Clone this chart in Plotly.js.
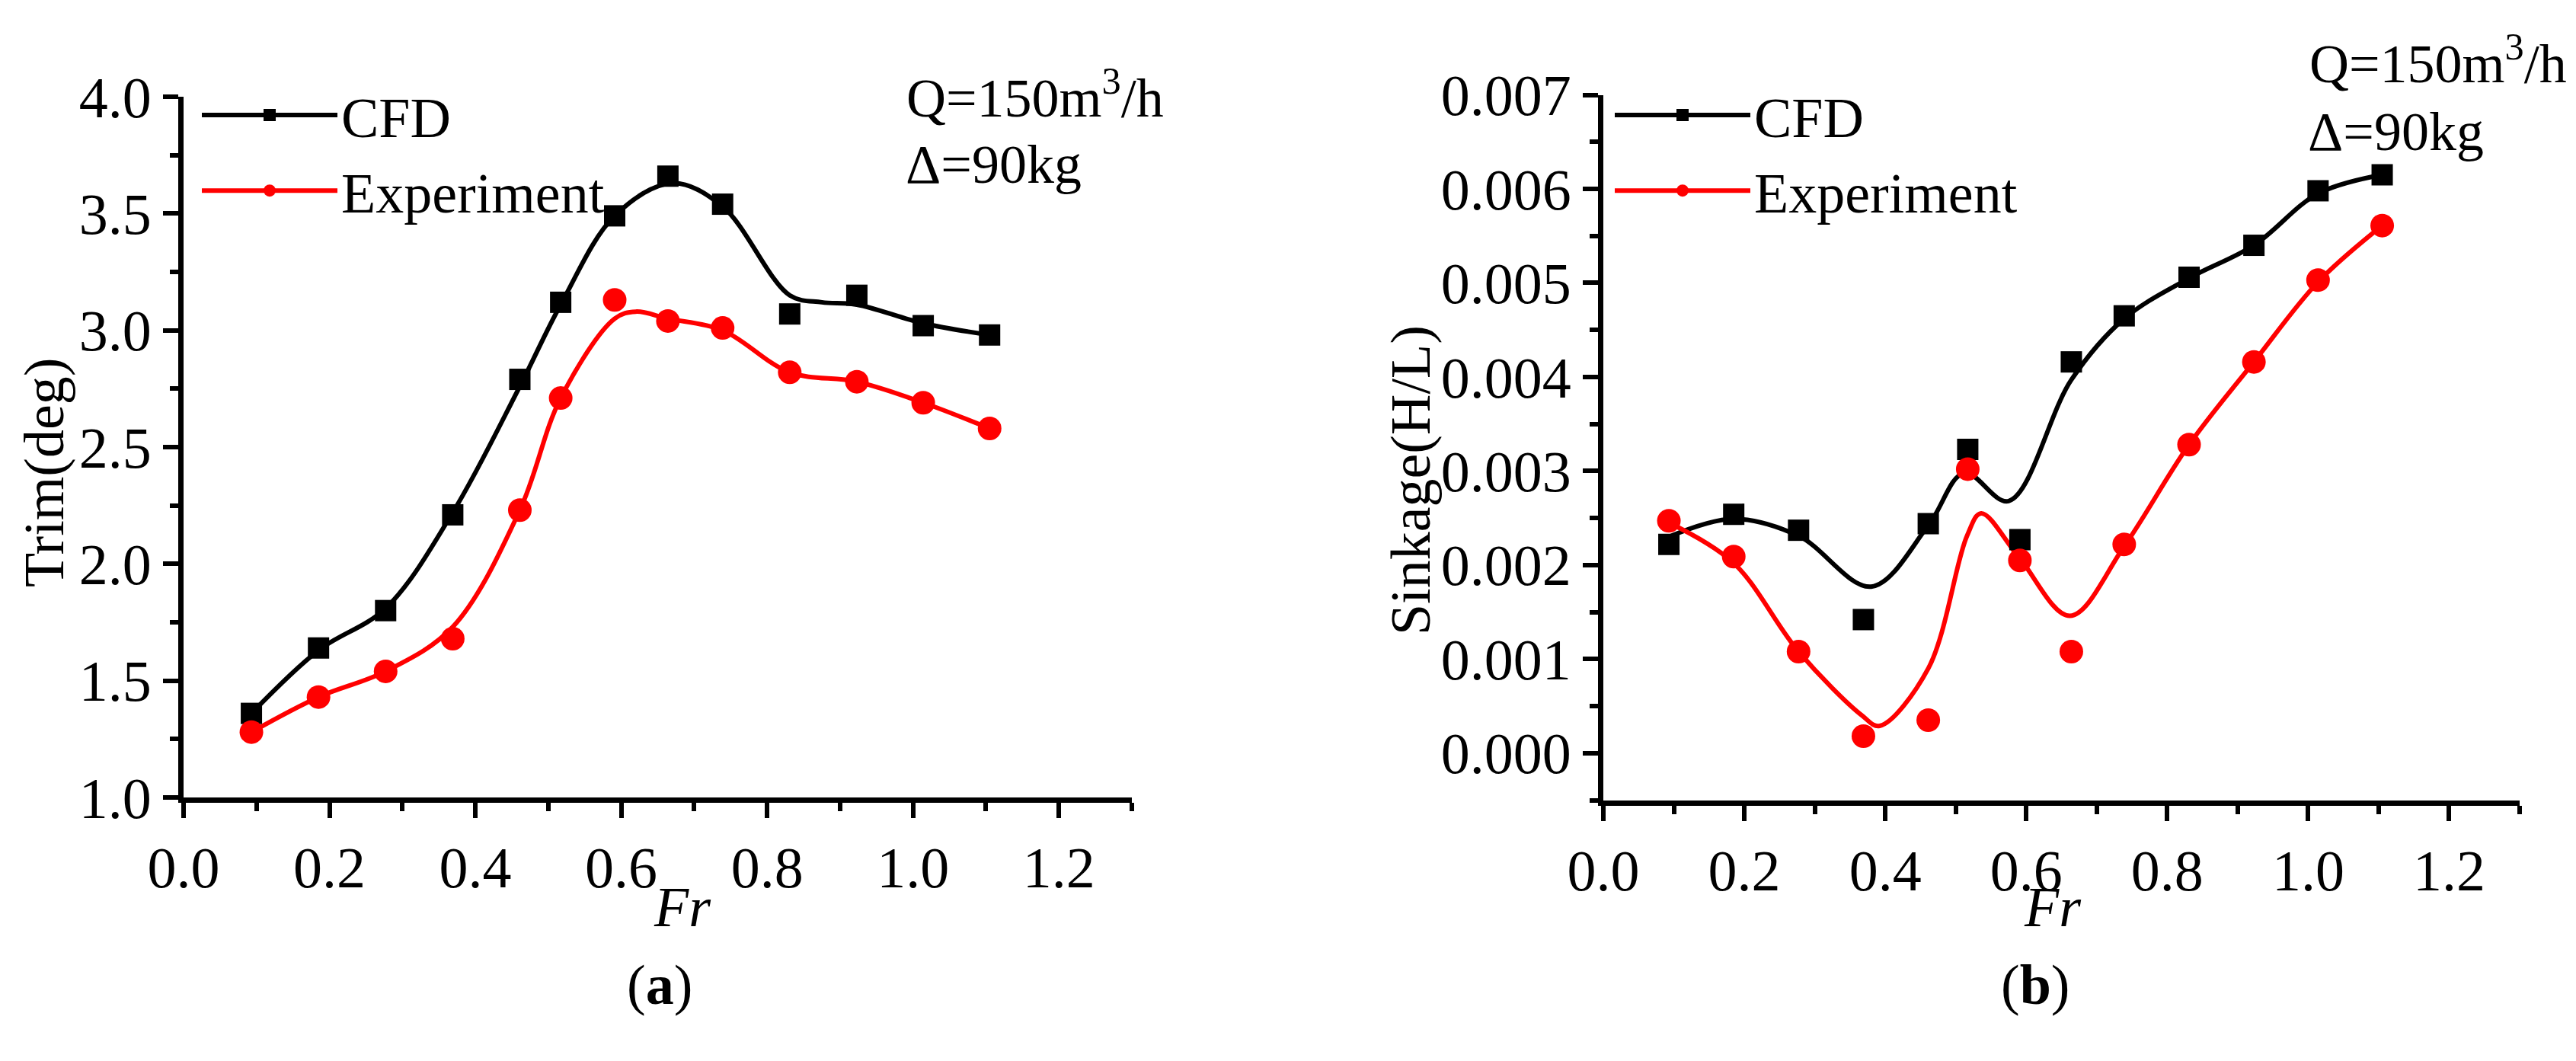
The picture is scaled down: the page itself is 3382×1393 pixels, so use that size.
<!DOCTYPE html>
<html>
<head>
<meta charset="utf-8">
<script src="https://cdn.plot.ly/plotly-3.0.1.min.js"></script>
<style>
  html, body { margin: 0; padding: 0; background: #fff; }
  #chart { width: 3382px; height: 1393px; }
</style>
</head>
<body>
<div id="chart"></div>
<script>
// Froude numbers of the test runs (same for both panels)
const fr = [0.093, 0.185, 0.277, 0.369, 0.461, 0.517, 0.591, 0.664, 0.739, 0.831, 0.923, 1.014, 1.105];

// (a) trim, deg
const trimCfd = [1.36, 1.64, 1.80, 2.21, 2.79, 3.12, 3.49, 3.66, 3.54, 3.07, 3.15, 3.02, 2.98];
const trimExp = [1.28, 1.43, 1.54, 1.68, 2.23, 2.71, 3.13, 3.04, 3.01, 2.82, 2.78, 2.69, 2.58];

// (b) sinkage, H/L
const sinkCfd = [0.00222, 0.00254, 0.00237, 0.00142, 0.00244, 0.00323, 0.00227, 0.00416, 0.00465, 0.00506, 0.00540, 0.00598, 0.00615];
const sinkExp = [0.00247, 0.00209, 0.00108, 0.00018, 0.00035, 0.00302, 0.00205, 0.00108, 0.00222, 0.00328, 0.00416, 0.00503, 0.00561];

// smoothed curves
const trimCfdFitX = [0.093, 0.185, 0.277, 0.369, 0.461, 0.517, 0.591, 0.67, 0.739, 0.831, 0.875, 0.923, 1.014, 1.105];
const trimCfdFitY = [1.36, 1.63, 1.81, 2.22, 2.76, 3.11, 3.49, 3.63, 3.53, 3.15, 3.12, 3.11, 3.03, 2.98];
const trimExpFitX = [0.093, 0.185, 0.277, 0.369, 0.461, 0.517, 0.591, 0.62, 0.664, 0.739, 0.831, 0.923, 1.014, 1.105];
const trimExpFitY = [1.28, 1.43, 1.54, 1.73, 2.23, 2.71, 3.05, 3.08, 3.05, 3.00, 2.82, 2.78, 2.69, 2.58];
const sinkCfdFitX = [0.093, 0.185, 0.277, 0.38, 0.461, 0.512, 0.575, 0.664, 0.739, 0.831, 0.923, 1.014, 1.105];
const sinkCfdFitY = [0.00230, 0.00249, 0.00231, 0.00177, 0.00242, 0.00298, 0.00268, 0.00397, 0.00462, 0.00505, 0.00540, 0.00595, 0.00615];
const sinkExpFitX = [0.093, 0.185, 0.277, 0.367, 0.392, 0.461, 0.516, 0.536, 0.589, 0.662, 0.739, 0.831, 0.923, 1.014, 1.105];
const sinkExpFitY = [0.00245, 0.00202, 0.00108, 0.00040, 0.00029, 0.00090, 0.00231, 0.00255, 0.00209, 0.00146, 0.00220, 0.00328, 0.00416, 0.00501, 0.00561];

const seriesNames = ['CFD', 'Experiment'];
const FONT = 'Liberation Serif, Times New Roman, serif';
const BLACK = '#000000';
const RED = '#ff0000';

function points(x, y, color, symbol, size, xa, ya) {
  return { type: 'scatter', mode: 'markers', x, y, xaxis: xa, yaxis: ya, showlegend: false,
    marker: { color, symbol, size, line: { width: 0 } }, hoverinfo: 'skip' };
}
function curve(x, y, color, xa, ya) {
  return { type: 'scatter', mode: 'lines', x, y, xaxis: xa, yaxis: ya, showlegend: false,
    line: { color, width: 6, shape: 'spline', smoothing: 1 }, hoverinfo: 'skip' };
}
// legend-only entries (line + symbol like the original key)
function key(name, color, symbol, size, xa, ya, legend) {
  return { type: 'scatter', mode: 'lines+markers', x: [null], y: [null], xaxis: xa, yaxis: ya,
    name, legend, line: { color, width: 6 }, marker: { color, symbol, size } };
}

const data = [
  curve(trimCfdFitX, trimCfdFitY, BLACK, 'x', 'y'),
  curve(trimExpFitX, trimExpFitY, RED, 'x', 'y'),
  points(fr, trimCfd, BLACK, 'square', 28, 'x', 'y'),
  points(fr, trimExp, RED, 'circle', 31, 'x', 'y'),
  key(seriesNames[0], BLACK, 'square', 28, 'x', 'y', 'legend'),
  key(seriesNames[1], RED, 'circle', 31, 'x', 'y', 'legend'),

  curve(sinkCfdFitX, sinkCfdFitY, BLACK, 'x2', 'y2'),
  curve(sinkExpFitX, sinkExpFitY, RED, 'x2', 'y2'),
  points(fr, sinkCfd, BLACK, 'square', 28, 'x2', 'y2'),
  points(fr, sinkExp, RED, 'circle', 31, 'x2', 'y2'),
  key(seriesNames[0], BLACK, 'square', 28, 'x2', 'y2', 'legend2'),
  key(seriesNames[1], RED, 'circle', 31, 'x2', 'y2', 'legend2'),
];

function axis(extra) {
  return Object.assign({
    ticks: 'outside', ticklen: 20, tickwidth: 6, tickcolor: BLACK,
    showline: true, linewidth: 7, linecolor: BLACK,
    showgrid: false, zeroline: false, fixedrange: true,
    tickfont: { family: FONT, size: 76, color: BLACK },
  }, extra);
}
function minor(dtick) {
  return { ticks: 'outside', dtick, ticklen: 11, tickwidth: 6, tickcolor: BLACK, showgrid: false };
}

const legendStyle = {
  font: { family: FONT, size: 74, color: BLACK },
  bgcolor: 'rgba(0,0,0,0)', borderwidth: 0,
  xanchor: 'left', yanchor: 'top', itemwidth: 178, tracegroupgap: 0,
};

function label(text, x, y, opts) {
  return Object.assign({ text, x, y, xref: 'paper', yref: 'paper', showarrow: false,
    xanchor: 'center', yanchor: 'middle',
    font: { family: FONT, size: 74, color: BLACK } }, opts || {});
}
const noteFont = { family: FONT, size: 72, color: BLACK };

const layout = {
  width: 3382, height: 1393,
  margin: { l: 0, r: 0, t: 0, b: 0 },
  paper_bgcolor: '#fff', plot_bgcolor: '#fff',
  font: { family: FONT, color: BLACK },
  xaxis: axis({ domain: [0.07126, 0.43938], anchor: 'y', range: [0, 1.3], dtick: 0.2, tick0: 0,
    tickformat: '.1f', minor: minor(0.1) }),
  yaxis: axis({ domain: [0.24838, 0.90883], anchor: 'x', range: [1, 4], dtick: 0.5, tick0: 1,
    tickformat: '.1f', minor: minor(0.25) }),
  xaxis2: axis({ domain: [0.62241, 0.97812], anchor: 'y2', range: [0, 1.3], dtick: 0.2, tick0: 0,
    tickformat: '.1f', minor: minor(0.1) }),
  yaxis2: axis({ domain: [0.24587, 0.91062], anchor: 'x2', range: [-0.0005, 0.007], dtick: 0.001, tick0: 0,
    tickformat: '.3f', minor: minor(0.0005) }),
  legend: Object.assign({ x: 0.07688, y: 0.9308 }, legendStyle),
  legend2: Object.assign({ x: 0.62537, y: 0.9308 }, legendStyle),
  annotations: [
    label('Trim(deg)', 0.01715, 0.5549, { textangle: -90 }),
    label('Sinkage(H/L)', 0.5476, 0.5477, { textangle: -90 }),
    label('<i>Fr</i>', 0.2650, 0.1450),
    label('<i>Fr</i>', 0.7970, 0.1450),
    label('(<b>a</b>)', 0.2560, 0.0720),
    label('(<b>b</b>)', 0.7900, 0.0720),
    label('Q=150m<sup>3</sup>/h', 0.35127, 0.9117, { xanchor: 'left', font: noteFont }),
    label('\u0394=90kg', 0.35097, 0.8449, { xanchor: 'left', font: noteFont }),
    label('Q=150m<sup>3</sup>/h', 0.89592, 0.9433, { xanchor: 'left', font: noteFont }),
    label('\u0394=90kg', 0.89533, 0.8758, { xanchor: 'left', font: noteFont }),
  ],
};

Plotly.newPlot('chart', data, layout, { displayModeBar: false, staticPlot: true });
</script>
</body>
</html>
